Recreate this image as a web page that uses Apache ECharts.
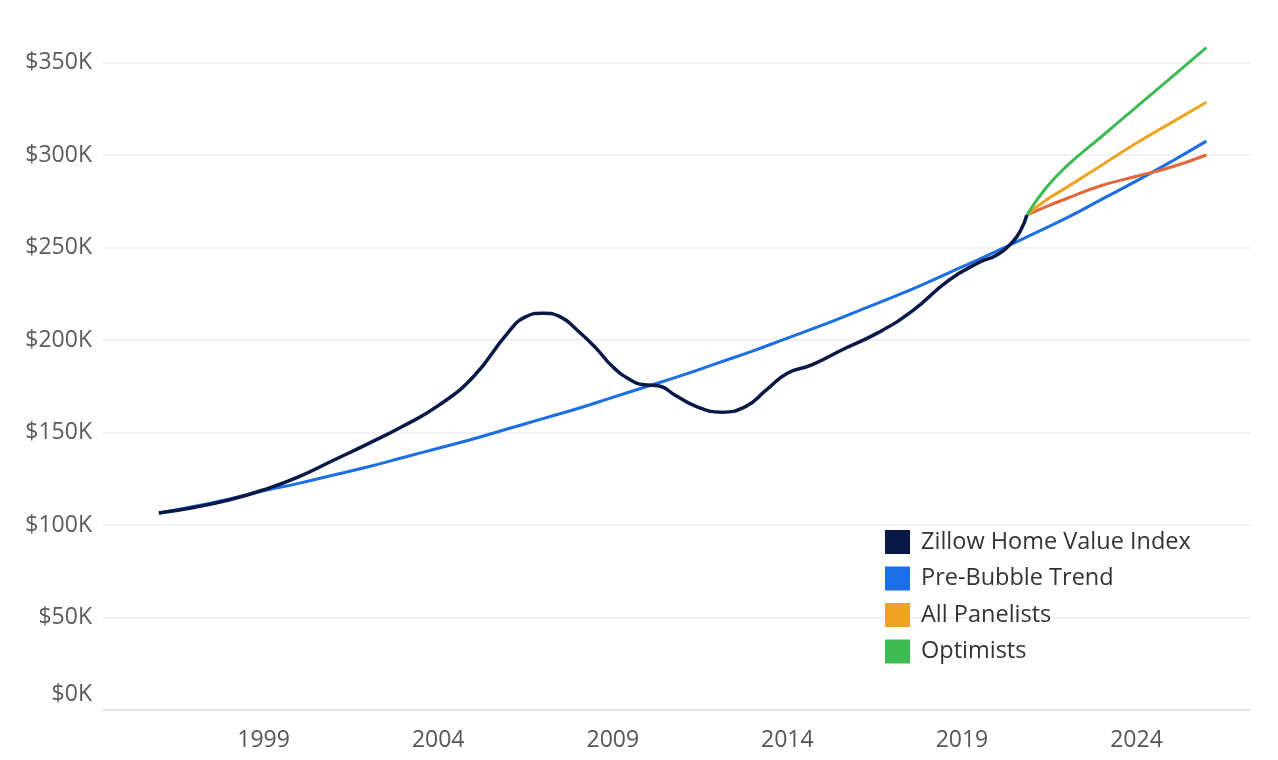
<!DOCTYPE html>
<html>
<head>
<meta charset="utf-8">
<script src="https://cdn.jsdelivr.net/npm/echarts@6/dist/echarts.min.js"></script>
<style>
html,body{margin:0;padding:0;background:#fff;overflow:hidden;width:1278px;height:760px;position:relative;}
#chart{position:absolute;left:0;top:-30px;width:1278px;height:790px;}
</style>
</head>
<body>
<div id="chart"></div>
<script>
// Tick labels
const yearTicks = [1999, 2004, 2009, 2014, 2019, 2024];
const valueTicks = [0, 50000, 100000, 150000, 200000, 250000, 300000, 350000, 400000];

// Zillow Home Value Index (year, $K)
const zhviYears = [1996.0, 1997.0, 1998.0, 1999.0, 2000.0, 2001.0, 2002.0, 2003.0, 2004.0, 2005.0,
  2006.0, 2006.5, 2007.0, 2007.5, 2008.0, 2008.5, 2009.0, 2009.5, 2009.9, 2010.3,
  2010.8, 2011.4, 2012.1, 2012.8, 2013.4, 2014.0, 2014.7, 2015.6, 2016.6, 2017.6,
  2018.6, 2019.5, 2020.0, 2020.45, 2020.7, 2020.86];
const zhviValues = [106.5, 109.5, 113.5, 119, 126, 135, 144, 153.5, 164.5, 180,
  204, 212.5, 214.5, 212.5, 205, 196, 185.5, 178.5, 175.8, 175.3,
  170, 164, 161, 164, 173, 182, 186.5, 195, 204, 216,
  232, 242, 246, 253, 260, 267.6];

// Pre-Bubble Trend
const trendYears = [1996, 1997, 1998, 1999, 2000, 2001, 2002, 2003, 2004, 2005, 2006, 2007, 2008, 2009, 2010,
  2011, 2012, 2013, 2014, 2015, 2016, 2017, 2018, 2019, 2020, 2021, 2022, 2023, 2024, 2025, 2026];
const trendValues = [106.5, 110, 114, 118.5, 122.5, 127, 131.5, 136.5, 141.5, 146.5, 152, 157.5, 163, 169, 175,
  181, 187.5, 194, 201, 208, 215.5, 223, 231, 239.5, 248, 257, 266, 276, 286, 296.5, 307.5];

// Forecasts
const forecastYears = [2020.86, 2021.4, 2022, 2023, 2024, 2025, 2026];
const panelistsValues = [267.6, 275.5, 282.5, 294.5, 306.5, 317.5, 328.5];
const optimistsValues = [267.6, 282, 294, 310, 326, 342, 358];
const pessimistsValues = [267.6, 272, 276.5, 283.5, 288.5, 293.5, 300];

function pairs(xs, ys) { return xs.map((x, i) => [x, ys[i] * 1000]); }

const chart = echarts.init(document.getElementById('chart'));
const font = '"Open Sans", "Noto Sans", sans-serif';

chart.setOption({
  backgroundColor: '#ffffff',
  animation: false,
  grid: { left: 103, right: 28, top: 0, bottom: 50, containLabel: false, outerBoundsMode: 'none' },
  legend: {
    orient: 'vertical',
    left: 880,
    top: 555,
    icon: 'rect',
    itemWidth: 25,
    itemHeight: 24,
    itemGap: 12.5,
    data: ['Zillow Home Value Index', 'Pre-Bubble Trend', 'All Panelists', 'Optimists'],
    textStyle: { fontFamily: font, fontSize: 23.5, color: '#333333', padding: [0, 0, 0, 6] }
  },
  xAxis: {
    type: 'value',
    min: 1994.4,
    max: 2027.25,
    axisLine: { show: true, lineStyle: { color: '#e3e3e3', width: 2 } },
    axisTick: { show: false },
    splitLine: { show: false },
    axisLabel: {
      customValues: yearTicks,
      margin: 19,
      fontFamily: font,
      fontSize: 23,
      color: '#555555',
      formatter: v => String(v)
    }
  },
  yAxis: {
    type: 'value',
    min: 0,
    max: 400000,
    interval: 50000,
    axisLine: { show: false },
    axisTick: { show: false },
    splitLine: { show: true, lineStyle: { color: '#f1f1f1', width: 2 } },
    axisLabel: {
      margin: 11,
      fontFamily: font,
      fontSize: 23,
      color: '#5a5a5a',
      formatter: v => {
        if (valueTicks.indexOf(v) < 0) return '';
        const s = '$' + (v / 1000) + 'K';
        return v === 0 ? '{z|' + s + '}' : s;
      },
      rich: { z: { fontFamily: font, fontSize: 23, color: '#5a5a5a', padding: [0, 0, 32, 0] } }
    }
  },
  series: [
    {
      name: 'Pre-Bubble Trend', type: 'line', showSymbol: false, smooth: true,
      data: pairs(trendYears, trendValues),
      lineStyle: { color: '#1b6ee6', width: 3 }, itemStyle: { color: '#1b6ee6' }, z: 2
    },
    {
      name: 'Zillow Home Value Index', type: 'line', showSymbol: false, smooth: 0.5,
      data: pairs(zhviYears, zhviValues),
      lineStyle: { color: '#0a1848', width: 3.5 }, itemStyle: { color: '#0a1848' }, z: 3
    },
    {
      name: 'Pessimists', type: 'line', showSymbol: false, smooth: true,
      data: pairs(forecastYears, pessimistsValues),
      lineStyle: { color: '#e2673a', width: 3 }, itemStyle: { color: '#e2673a' }, z: 2
    },
    {
      name: 'All Panelists', type: 'line', showSymbol: false, smooth: true,
      data: pairs(forecastYears, panelistsValues),
      lineStyle: { color: '#f0a323', width: 3 }, itemStyle: { color: '#f0a323' }, z: 2
    },
    {
      name: 'Optimists', type: 'line', showSymbol: false, smooth: true,
      data: pairs(forecastYears, optimistsValues),
      lineStyle: { color: '#3dbb52', width: 3 }, itemStyle: { color: '#3dbb52' }, z: 2
    }
  ]
});
</script>
</body>
</html>
